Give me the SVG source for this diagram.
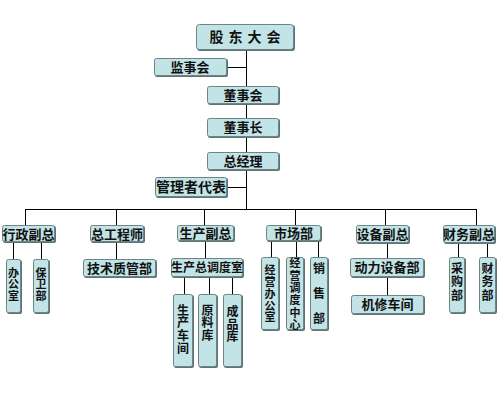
<svg xmlns="http://www.w3.org/2000/svg" width="500" height="400" viewBox="0 0 500 400">
<style>
.box{fill:#c2e4e7;stroke:#6e8486;stroke-width:1}
.sh{fill:#5f7375}
.t{font-family:"Noto Sans CJK SC","Noto Sans CJK JP",sans-serif;font-size:13px;font-weight:bold;fill:#111;text-anchor:middle}
.v{writing-mode:vertical-rl;text-orientation:upright}
.ln{stroke:#000;stroke-width:1;fill:none}
</style>
<rect width="500" height="400" fill="#fff"/>
<g id="connectors" class="ln">
<path d="M246.5 50V209M227 67.5H246.5M227 187.5H246.5"/>
<path d="M25.5 209.5H476.5M25.5 209V225M116.5 209V225M204.5 209V225M295.5 209V225M385.5 209V225M476.5 209V225"/>
<path d="M13.5 242V259M41.5 242V259M116.5 242V259M205.5 241V258M184.5 277V294M209.5 277V294M232.5 277V294M271.5 241V257M296.5 241V257M318.5 241V257M387.5 243V258M387.5 277V295M458.5 243V257M487.5 243V257"/>
</g>
<g id="n_gddh"><rect class="sh" x="197" y="25" width="98" height="26" rx="3"/><rect class="box" x="196.5" y="24.5" width="97" height="25" rx="3"/><text class="t" x="247.5" y="42" style="font-size:14px;letter-spacing:5px">股东大会</text></g>
<g id="n_jsh"><rect class="sh" x="155" y="59" width="73" height="18" rx="2"/><rect class="box" x="154.5" y="58.5" width="72" height="17" rx="2"/><text class="t" x="190" y="72">监事会</text></g>
<g id="n_dsh"><rect class="sh" x="208" y="87" width="72" height="18" rx="2"/><rect class="box" x="207.5" y="86.5" width="71" height="17" rx="2"/><text class="t" x="243" y="100">董事会</text></g>
<g id="n_dsz"><rect class="sh" x="208" y="119" width="72" height="19" rx="2"/><rect class="box" x="207.5" y="118.5" width="71" height="18" rx="2"/><text class="t" x="243" y="132">董事长</text></g>
<g id="n_zjl"><rect class="sh" x="208" y="153" width="72" height="18" rx="2"/><rect class="box" x="207.5" y="152.5" width="71" height="17" rx="2"/><text class="t" x="243" y="166">总经理</text></g>
<g id="n_gldb"><rect class="sh" x="156" y="178" width="72" height="20" rx="2"/><rect class="box" x="155.5" y="177.5" width="71" height="19" rx="2"/><text class="t" x="191" y="192" style="font-size:14px">管理者代表</text></g>
<g id="n_xzfz"><rect class="sh" x="3" y="226" width="53" height="17" rx="2"/><rect class="box" x="2.5" y="225.5" width="52" height="16" rx="2"/><text class="t" x="28.5" y="238.5">行政副总</text></g>
<g id="n_zgcs"><rect class="sh" x="91" y="226" width="54" height="17" rx="2"/><rect class="box" x="90.5" y="225.5" width="53" height="16" rx="2"/><text class="t" x="117" y="238.5">总工程师</text></g>
<g id="n_scfz"><rect class="sh" x="178" y="226" width="57" height="16" rx="2"/><rect class="box" x="177.5" y="225.5" width="56" height="15" rx="2"/><text class="t" x="205.5" y="238">生产副总</text></g>
<g id="n_scb"><rect class="sh" x="267" y="226" width="55" height="16" rx="2"/><rect class="box" x="266.5" y="225.5" width="54" height="15" rx="2"/><text class="t" x="293.5" y="238">市场部</text></g>
<g id="n_sbfz"><rect class="sh" x="357" y="226" width="53" height="18" rx="2"/><rect class="box" x="356.5" y="225.5" width="52" height="17" rx="2"/><text class="t" x="382.5" y="239">设备副总</text></g>
<g id="n_cwfz"><rect class="sh" x="444" y="226" width="52" height="18" rx="2"/><rect class="box" x="443.5" y="225.5" width="51" height="17" rx="2"/><text class="t" x="469" y="239">财务副总</text></g>
<g id="n_bgs"><rect class="sh" x="7" y="260" width="15" height="54" rx="2"/><rect class="box" x="6.5" y="259.5" width="14" height="53" rx="2"/><text class="t v" x="13.5" y="284.5" style="font-size:11px;letter-spacing:0.5px">办公室</text></g>
<g id="n_bwb"><rect class="sh" x="34" y="260" width="16" height="54" rx="2"/><rect class="box" x="33.5" y="259.5" width="15" height="53" rx="2"/><text class="t v" x="41" y="284.5" style="font-size:11px;letter-spacing:0.5px">保卫部</text></g>
<g id="n_jszgb"><rect class="sh" x="84" y="260" width="73" height="18" rx="2"/><rect class="box" x="83.5" y="259.5" width="72" height="17" rx="2"/><text class="t" x="119.5" y="273">技术质管部</text></g>
<g id="n_scddd"><rect class="sh" x="172" y="259" width="72" height="19" rx="2"/><rect class="box" x="171.5" y="258.5" width="71" height="18" rx="2"/><text class="t" x="207" y="272" style="font-size:12px">生产总调度室</text></g>
<g id="n_sccj"><rect class="sh" x="174" y="295" width="20" height="73" rx="2"/><rect class="box" x="173.5" y="294.5" width="19" height="72" rx="2"/><text class="t v" x="183" y="329.5" style="font-size:12px;letter-spacing:0.7px">生产车间</text></g>
<g id="n_ylk"><rect class="sh" x="199" y="295" width="19" height="73" rx="2"/><rect class="box" x="198.5" y="294.5" width="18" height="72" rx="2"/><text class="t v" x="207.5" y="323" style="font-size:12px;letter-spacing:0.5px">原料库</text></g>
<g id="n_cpk"><rect class="sh" x="224" y="295" width="19" height="73" rx="2"/><rect class="box" x="223.5" y="294.5" width="18" height="72" rx="2"/><text class="t v" x="232.5" y="324.5" style="font-size:12px;letter-spacing:0.5px">成品库</text></g>
<g id="n_jybgs"><rect class="sh" x="262" y="258" width="18" height="73" rx="2"/><rect class="box" x="261.5" y="257.5" width="17" height="72" rx="2"/><text class="t v" x="270" y="294" style="font-size:11px;letter-spacing:0.75px">经营办公室</text></g>
<g id="n_jyddzx"><rect class="sh" x="287" y="258" width="18" height="73" rx="2"/><rect class="box" x="286.5" y="257.5" width="17" height="72" rx="2"/><text class="t v" x="295" y="294.7" style="font-size:11px;letter-spacing:1.4px">经营调度中心</text></g>
<g id="n_xsb"><rect class="sh" x="311" y="258" width="18" height="73" rx="2"/><rect class="box" x="310.5" y="257.5" width="17" height="72" rx="2"/><text class="t v" x="319" y="299.5" style="font-size:12px;letter-spacing:13px">销售部</text></g>
<g id="n_dlsbb"><rect class="sh" x="351" y="259" width="74" height="19" rx="2"/><rect class="box" x="350.5" y="258.5" width="73" height="18" rx="2"/><text class="t" x="387" y="272">动力设备部</text></g>
<g id="n_jxcj"><rect class="sh" x="352" y="296" width="73" height="19" rx="2"/><rect class="box" x="351.5" y="295.5" width="72" height="18" rx="2"/><text class="t" x="387.5" y="309">机修车间</text></g>
<g id="n_cgb"><rect class="sh" x="450" y="258" width="16" height="56" rx="2"/><rect class="box" x="449.5" y="257.5" width="15" height="55" rx="2"/><text class="t v" x="457" y="282.5" style="font-size:12px;letter-spacing:1.5px">采购部</text></g>
<g id="n_cwb"><rect class="sh" x="480" y="258" width="17" height="56" rx="2"/><rect class="box" x="479.5" y="257.5" width="16" height="55" rx="2"/><text class="t v" x="487.5" y="282.5" style="font-size:12px;letter-spacing:1.5px">财务部</text></g>
</svg>
